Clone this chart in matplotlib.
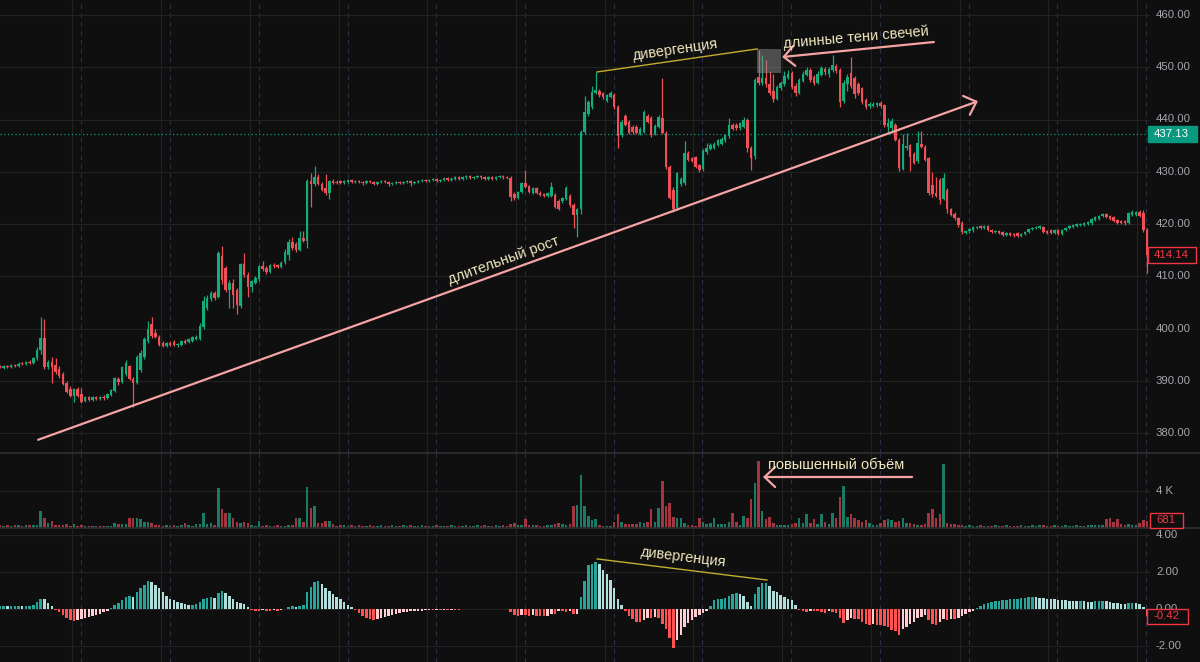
import matplotlib
matplotlib.use("Agg")
import matplotlib.pyplot as plt
from matplotlib.patches import Rectangle
from matplotlib.lines import Line2D

# ---------------- data ----------------
opens = [
    392.8, 392.5, 392.9, 392.6, 393.0, 392.8, 393.3, 393.2, 393.6, 393.4,
    394.3, 395.8, 398.2, 392.6, 393.6, 393.0, 392.2, 391.2, 389.5, 388.5,
    387.0, 388.4, 387.5, 386.2, 386.9, 386.4, 386.8, 386.5, 386.9, 386.7,
    387.3, 388.0, 390.4, 389.8, 391.2, 392.8, 390.4, 389.6, 392.0, 394.5,
    397.6, 400.8, 399.2, 398.4, 397.2, 396.7, 397.2, 397.5, 396.9, 396.9,
    397.6, 397.4, 397.7, 398.0, 398.0, 400.3, 404.0, 405.6, 406.8, 406.0,
    413.8, 411.5, 407.4, 408.7, 407.4, 404.3, 412.3, 410.3, 407.9, 408.8,
    409.4, 412.0, 411.6, 410.8, 412.2, 412.1, 411.8, 412.7, 414.0, 416.6,
    416.2, 415.1, 417.4, 416.8, 428.3, 427.6, 429.0, 427.7, 426.8, 425.9,
    428.2, 428.1, 428.2, 427.8, 428.1, 428.4, 428.0, 428.3, 428.0, 427.9,
    428.2, 428.0, 427.7, 428.0, 428.2, 428.0, 427.6, 427.9, 428.1, 427.8,
    428.1, 428.3, 427.9, 428.1, 428.3, 428.5, 428.2, 428.4, 428.6, 428.3,
    428.5, 428.8, 428.5, 428.7, 428.9, 428.6, 428.9, 429.1, 428.8, 429.0,
    429.2, 428.9, 428.6, 428.9, 428.6, 429.0, 429.2, 428.9, 428.8, 425.8,
    425.0, 426.1, 427.8, 427.2, 426.0, 426.8, 426.0, 425.7, 425.4, 425.4,
    425.5, 424.4, 424.4, 424.8, 425.4, 423.6, 421.7, 422.8, 437.6, 441.0,
    442.3, 445.1, 445.4, 445.0, 443.6, 444.4, 444.7, 442.4, 437.0, 440.6,
    439.6, 438.5, 438.6, 437.3, 437.6, 440.6, 440.2, 437.2, 438.6, 440.3,
    437.4, 430.9, 426.5, 423.0, 427.6, 427.8, 433.6, 432.6, 432.8, 431.2,
    430.5, 433.7, 434.4, 434.6, 435.2, 435.4, 436.0, 436.8, 439.0, 439.0,
    438.3, 438.6, 439.9, 434.6, 433.0, 448.2, 447.0, 448.0, 446.8, 445.4,
    444.0, 446.0, 446.8, 448.0, 448.9, 446.5, 445.0, 447.4, 448.6, 449.5,
    448.2, 447.0, 448.6, 449.6, 448.8, 449.4, 450.3, 449.4, 443.6, 446.8,
    448.9, 448.0, 446.8, 446.0, 443.8, 442.5, 442.6, 442.7, 443.2, 442.7,
    438.5, 438.3, 439.0, 436.1, 430.6, 434.5, 435.1, 433.4, 432.0, 435.4,
    434.8, 432.6, 427.5, 426.0, 428.4, 424.8, 426.5, 422.8, 422.0, 421.1,
    420.2, 418.3, 418.6, 418.8, 419.3, 419.6, 419.2, 419.6, 418.8, 418.4,
    418.6, 418.4, 417.9, 418.2, 418.1, 418.2, 417.7, 418.0, 418.4, 419.0,
    419.2, 419.3, 419.5, 418.7, 418.8, 418.2, 418.9, 418.0, 418.8, 419.3,
    419.5, 419.7, 419.8, 419.9, 420.0, 420.1, 420.7, 421.0, 421.5, 421.9,
    421.5, 421.3, 420.8, 420.6, 420.5, 420.2, 421.7, 421.8, 422.3, 422.1,
    418.9,
]
highs = [
    393.1, 393.0, 393.1, 393.2, 393.3, 393.5, 393.6, 393.8, 393.9, 394.5,
    396.5, 402.2, 401.8, 394.0, 394.5, 394.4, 392.8, 391.6, 389.9, 388.9,
    388.7, 388.8, 388.6, 387.1, 387.1, 387.0, 387.0, 387.1, 387.2, 387.6,
    388.4, 390.8, 390.7, 392.8, 393.9, 393.1, 390.8, 394.9, 395.8, 398.4,
    401.4, 402.2, 399.9, 398.7, 397.6, 397.5, 397.6, 397.8, 397.3, 397.8,
    397.9, 398.2, 398.5, 398.7, 401.0, 406.3, 406.5, 407.2, 407.1, 414.8,
    415.8, 412.0, 409.2, 409.5, 407.8, 412.6, 414.4, 410.8, 409.3, 410.0,
    412.2, 413.0, 412.0, 412.4, 412.6, 412.4, 412.9, 415.2, 417.2, 417.6,
    416.6, 418.6, 418.6, 428.6, 429.8, 431.1, 429.5, 428.0, 429.5, 428.5,
    428.6, 428.4, 428.5, 428.4, 428.7, 428.7, 428.5, 428.5, 428.2, 428.4,
    428.4, 428.2, 428.2, 428.4, 428.4, 428.2, 428.1, 428.3, 428.3, 428.3,
    428.5, 428.5, 428.3, 428.5, 428.7, 428.7, 428.6, 428.8, 428.8, 428.7,
    429.0, 429.0, 428.9, 429.1, 429.1, 429.1, 429.3, 429.3, 429.2, 429.4,
    429.4, 429.1, 429.1, 429.1, 429.2, 429.4, 429.4, 429.1, 429.1, 426.2,
    426.4, 428.0, 430.4, 427.5, 427.1, 427.1, 426.3, 426.0, 426.2, 428.0,
    425.9, 424.8, 425.2, 427.2, 425.8, 424.0, 423.1, 438.0, 444.5, 443.8,
    446.5, 449.1, 445.9, 445.3, 444.9, 445.4, 445.1, 442.8, 440.0, 441.0,
    440.0, 438.9, 438.9, 438.5, 441.8, 441.0, 440.6, 439.1, 440.8, 448.0,
    437.8, 431.2, 427.0, 430.0, 429.0, 435.8, 434.0, 432.9, 433.1, 431.5,
    434.3, 435.5, 435.5, 435.7, 436.3, 436.6, 437.3, 440.2, 439.4, 439.3,
    439.6, 440.5, 440.2, 435.0, 448.0, 453.3, 452.3, 451.4, 449.2, 448.8,
    446.6, 447.4, 449.2, 449.4, 449.3, 447.0, 448.0, 449.2, 450.0, 449.9,
    448.6, 449.2, 450.2, 450.0, 450.0, 452.3, 450.6, 449.8, 447.6, 448.8,
    452.0, 448.4, 447.2, 446.3, 444.2, 443.3, 443.3, 443.4, 443.5, 443.0,
    440.2, 440.2, 439.4, 436.4, 437.3, 437.4, 435.4, 433.8, 437.8, 437.8,
    435.1, 432.9, 430.0, 429.0, 428.8, 429.8, 426.9, 423.1, 422.3, 421.4,
    420.5, 418.9, 419.2, 419.6, 419.7, 419.8, 419.8, 419.8, 419.0, 418.9,
    418.8, 418.6, 418.4, 418.4, 418.3, 418.4, 418.3, 418.7, 419.3, 419.5,
    419.7, 419.9, 419.7, 418.9, 419.0, 419.1, 419.1, 419.1, 419.5, 419.8,
    420.0, 420.2, 420.2, 420.3, 420.6, 421.1, 421.5, 421.8, 422.2, 422.1,
    421.7, 421.5, 421.0, 420.8, 420.7, 422.3, 422.6, 422.5, 422.7, 422.7,
    419.2,
]
lows = [
    392.4, 392.3, 392.5, 392.4, 392.6, 392.7, 393.0, 393.1, 393.2, 393.3,
    394.0, 395.2, 392.2, 392.2, 389.6, 391.3, 390.6, 389.2, 387.6, 386.8,
    385.9, 386.8, 385.8, 385.9, 386.2, 386.2, 386.3, 386.3, 386.4, 386.5,
    387.1, 387.8, 389.2, 389.5, 390.9, 390.2, 385.0, 389.3, 391.6, 394.2,
    397.3, 398.2, 398.2, 396.6, 396.4, 396.5, 396.7, 396.6, 396.5, 396.7,
    397.0, 397.2, 397.5, 397.8, 397.8, 400.0, 403.6, 405.3, 405.5, 405.8,
    408.6, 407.0, 403.9, 404.0, 402.8, 404.0, 409.8, 406.0, 407.0, 408.5,
    409.1, 411.1, 410.5, 410.6, 411.6, 411.5, 411.6, 412.4, 413.2, 415.1,
    414.7, 414.9, 416.5, 415.4, 423.3, 427.3, 427.4, 426.3, 425.6, 424.8,
    427.6, 427.6, 427.7, 427.6, 427.9, 427.8, 427.8, 427.8, 427.5, 427.7,
    427.8, 427.5, 427.5, 427.8, 427.8, 427.3, 427.4, 427.7, 427.6, 427.6,
    427.9, 427.3, 427.7, 427.9, 428.1, 428.0, 428.0, 428.2, 428.1, 428.1,
    428.3, 428.3, 428.3, 428.5, 428.4, 428.4, 428.7, 428.6, 428.6, 428.8,
    428.7, 428.4, 428.4, 428.4, 428.4, 428.8, 428.7, 428.6, 424.4, 424.5,
    424.8, 425.9, 426.8, 425.9, 425.8, 425.8, 425.3, 425.1, 425.2, 425.1,
    423.0, 422.6, 424.1, 424.5, 423.3, 419.2, 417.5, 422.0, 437.2, 440.6,
    442.0, 444.8, 444.4, 444.0, 443.3, 444.1, 442.1, 434.5, 436.7, 438.7,
    437.2, 437.3, 437.2, 437.0, 437.4, 439.3, 436.7, 437.0, 438.3, 437.2,
    430.6, 424.7, 422.3, 422.6, 427.3, 427.5, 432.0, 431.8, 430.8, 429.9,
    430.2, 433.4, 434.1, 434.3, 434.9, 435.1, 435.7, 436.5, 437.9, 438.0,
    438.0, 438.3, 433.8, 430.3, 432.5, 446.6, 446.6, 446.3, 444.6, 443.4,
    443.7, 445.6, 446.5, 447.7, 445.8, 444.5, 444.8, 447.2, 448.3, 447.2,
    446.6, 446.8, 448.4, 448.6, 448.2, 449.1, 448.9, 442.4, 443.2, 445.5,
    446.0, 444.2, 444.6, 443.0, 442.0, 442.2, 442.3, 442.4, 442.2, 438.5,
    437.3, 437.5, 435.8, 430.2, 430.3, 434.2, 430.2, 431.4, 431.7, 434.5,
    432.0, 425.5, 425.2, 425.1, 423.8, 424.5, 422.2, 421.5, 420.8, 419.5,
    418.1, 418.0, 418.3, 418.5, 419.0, 419.0, 419.0, 418.6, 418.2, 418.2,
    418.0, 417.7, 417.7, 417.7, 417.6, 417.5, 417.5, 417.8, 418.2, 418.8,
    419.0, 419.1, 418.2, 418.0, 418.0, 418.0, 417.8, 417.8, 418.6, 419.1,
    419.3, 419.5, 419.6, 419.7, 419.8, 419.9, 420.5, 420.8, 421.3, 421.2,
    420.7, 420.4, 420.0, 420.0, 419.9, 420.0, 421.5, 421.6, 421.3, 418.5,
    410.6,
]
closes = [
    392.5, 392.9, 392.6, 393.0, 392.8, 393.3, 393.2, 393.6, 393.4, 394.3,
    395.9, 398.2, 392.6, 393.6, 392.7, 391.6, 390.9, 389.4, 387.8, 387.0,
    388.4, 387.0, 386.0, 386.9, 386.4, 386.8, 386.5, 386.9, 386.7, 387.4,
    388.2, 390.5, 389.8, 392.6, 393.4, 390.4, 389.6, 394.6, 395.4, 398.0,
    400.0, 398.6, 398.4, 396.9, 396.7, 397.2, 396.9, 396.8, 397.0, 397.6,
    397.2, 398.0, 398.3, 398.4, 400.4, 405.2, 405.8, 406.8, 405.8, 414.5,
    409.3, 407.4, 408.7, 406.5, 404.5, 412.3, 410.2, 407.9, 409.0, 409.7,
    411.9, 411.4, 410.8, 412.1, 411.9, 411.8, 412.6, 414.6, 416.5, 415.4,
    415.0, 417.4, 416.8, 428.3, 427.6, 428.9, 427.7, 426.6, 425.9, 428.2,
    427.8, 427.8, 427.9, 428.2, 428.5, 428.0, 428.3, 428.0, 427.8, 428.2,
    428.0, 427.7, 428.0, 428.2, 428.0, 427.6, 427.9, 428.1, 427.8, 428.1,
    428.3, 427.9, 428.1, 428.3, 428.5, 428.2, 428.4, 428.6, 428.3, 428.5,
    428.8, 428.5, 428.7, 428.9, 428.6, 428.9, 429.1, 428.8, 429.0, 429.2,
    428.9, 428.6, 428.9, 428.6, 429.0, 429.2, 428.9, 428.8, 425.2, 424.9,
    426.1, 427.8, 427.0, 426.2, 426.9, 426.0, 425.6, 425.4, 426.0, 427.1,
    423.3, 422.9, 425.0, 426.9, 423.6, 421.7, 422.8, 437.6, 441.4, 443.4,
    445.3, 445.6, 444.7, 444.3, 444.6, 445.0, 442.4, 436.8, 439.6, 439.0,
    437.5, 437.6, 437.5, 438.2, 441.4, 439.6, 437.0, 438.8, 440.4, 437.5,
    430.9, 425.0, 422.9, 429.7, 428.6, 433.6, 432.3, 432.0, 431.0, 430.3,
    434.0, 434.6, 435.2, 435.4, 436.0, 436.3, 437.0, 439.0, 438.2, 438.3,
    439.3, 440.0, 434.5, 432.6, 447.6, 447.0, 448.0, 446.8, 445.0, 443.9,
    446.2, 447.0, 448.3, 448.8, 446.2, 445.0, 447.6, 448.8, 449.5, 447.6,
    447.0, 448.8, 449.8, 449.0, 449.6, 450.4, 449.2, 443.3, 447.0, 448.2,
    446.5, 444.8, 445.0, 443.4, 442.4, 443.0, 443.0, 443.1, 442.5, 438.9,
    439.3, 439.7, 436.1, 430.8, 435.4, 435.0, 432.9, 431.7, 435.5, 434.8,
    432.3, 426.0, 425.8, 425.4, 424.6, 428.8, 422.8, 421.8, 421.1, 419.8,
    418.4, 418.7, 419.0, 419.4, 419.5, 419.2, 419.6, 418.8, 418.4, 418.7,
    418.2, 417.9, 418.2, 417.9, 417.8, 417.7, 418.1, 418.5, 419.1, 419.3,
    419.5, 419.7, 418.4, 418.2, 418.2, 418.9, 418.0, 418.9, 419.3, 419.6,
    419.8, 420.0, 420.0, 420.1, 420.4, 420.9, 421.3, 421.6, 422.0, 421.4,
    420.9, 420.6, 420.2, 420.2, 420.1, 422.1, 422.3, 422.3, 421.5, 418.9,
    414.14,
]
volume_k = [
    0.25, 0.2, 0.3, 0.2, 0.25, 0.3, 0.2, 0.25, 0.3, 0.25,
    0.3, 1.8, 1.1, 0.5, 0.7, 0.3, 0.3, 0.3, 0.4, 0.2,
    0.4, 0.2, 0.3, 0.2, 0.2, 0.2, 0.2, 0.2, 0.2, 0.2,
    0.2, 0.5, 0.4, 0.4, 0.4, 1.1, 1.1, 1.0, 0.9, 0.6,
    0.6, 0.5, 0.3, 0.25, 0.2, 0.25, 0.2, 0.25, 0.2, 0.25,
    0.5, 0.25, 0.2, 0.4, 0.4, 1.6, 0.4, 0.5, 0.3, 4.3,
    2.0, 1.6, 1.6, 1.1, 0.6, 0.5, 0.6, 0.5, 0.3, 0.2,
    0.7, 0.2, 0.25, 0.2, 0.2, 0.25, 0.2, 0.2, 0.25, 0.3,
    1.1, 1.1, 0.6, 4.4, 2.1, 2.4, 0.5, 0.5, 0.7, 0.7,
    0.4, 0.2, 0.3, 0.25, 0.2, 0.25, 0.2, 0.25, 0.2, 0.2,
    0.25, 0.2, 0.2, 0.25, 0.2, 0.2, 0.25, 0.2, 0.2, 0.25,
    0.2, 0.3, 0.2, 0.2, 0.25, 0.2, 0.2, 0.2, 0.25, 0.2,
    0.2, 0.2, 0.25, 0.2, 0.2, 0.2, 0.25, 0.2, 0.2, 0.3,
    0.2, 0.25, 0.2, 0.2, 0.3, 0.2, 0.25, 0.2, 0.4, 0.5,
    0.3, 0.3, 0.9, 0.3, 0.3, 0.3, 0.2, 0.2, 0.3, 0.3,
    0.4, 0.5, 0.4, 0.3, 0.35, 2.4, 2.5, 5.7, 2.4, 1.3,
    0.8, 0.9, 0.3, 0.2, 0.2, 0.2, 0.6, 1.5, 0.6, 0.4,
    0.4, 0.4, 0.4, 0.6, 0.5, 0.6, 2.0, 0.6, 2.1, 5.0,
    2.4, 2.7, 1.2, 1.0, 1.0, 0.5, 0.3, 0.3, 0.2, 1.1,
    0.6, 0.4, 0.5, 1.0, 0.4, 0.4, 0.4, 0.6, 1.6, 0.6,
    0.3, 1.3, 1.0, 3.1, 4.8, 7.2, 1.8, 0.9, 1.2, 0.5,
    0.3, 0.3, 0.3, 0.3, 0.4, 0.5, 1.0, 0.5, 1.5, 0.5,
    0.9, 0.4, 1.5, 0.6, 0.4, 1.6, 1.0, 3.3, 4.5, 1.2,
    1.5, 1.1, 0.8, 0.6, 0.8, 0.5, 0.3, 0.3, 0.5, 0.8,
    0.9, 0.8, 0.6, 0.7, 1.0, 0.5, 0.5, 0.4, 0.3, 0.3,
    0.4, 1.6, 2.0, 1.0, 1.5, 6.9, 0.5, 0.4, 0.4, 0.3,
    0.3, 0.2, 0.25, 0.2, 0.2, 0.25, 0.2, 0.2, 0.2, 0.25,
    0.2, 0.2, 0.25, 0.2, 0.2, 0.2, 0.25, 0.2, 0.2, 0.3,
    0.2, 0.25, 0.3, 0.2, 0.2, 0.25, 0.2, 0.2, 0.25, 0.2,
    0.2, 0.25, 0.2, 0.2, 0.25, 0.3, 0.3, 0.25, 0.3, 0.9,
    1.1, 0.6, 0.9, 0.4, 0.3, 0.4, 0.3, 0.3, 0.5, 0.8,
    0.68,
]
macd_hist = [
    0.15, 0.15, 0.12, 0.12, 0.15, 0.15, 0.12, 0.12, 0.15, 0.2,
    0.35, 0.55, 0.5, 0.3, 0.15, -0.05, -0.2, -0.35, -0.5, -0.6,
    -0.65, -0.6, -0.55, -0.5, -0.45, -0.4, -0.35, -0.3, -0.2, -0.1,
    0.05, 0.2, 0.3, 0.45, 0.65, 0.7, 0.65, 0.9, 1.1, 1.3,
    1.5, 1.45, 1.3, 1.1, 0.9, 0.7, 0.55, 0.45, 0.35, 0.3,
    0.25, 0.2, 0.2, 0.25, 0.35, 0.5, 0.6, 0.65, 0.6, 0.85,
    0.95, 0.85, 0.7, 0.5, 0.35, 0.3, 0.25, 0.1, -0.05, -0.1,
    -0.1, -0.08, -0.1, -0.1, -0.08, -0.1, -0.05, 0.0, 0.1, 0.15,
    0.1, 0.15, 0.2, 0.9, 1.2, 1.45, 1.5, 1.35, 1.1, 0.95,
    0.8, 0.65, 0.5, 0.35, 0.2, 0.1, -0.05, -0.25, -0.4, -0.5,
    -0.55, -0.6, -0.55, -0.5, -0.45, -0.4, -0.35, -0.3, -0.25, -0.2,
    -0.18, -0.15, -0.13, -0.12, -0.1, -0.09, -0.08, -0.08, -0.07, -0.07,
    -0.06, -0.06, -0.05, -0.05, -0.05, -0.04, -0.04, -0.04, -0.03, -0.03,
    -0.03, -0.04, -0.03, -0.03, -0.04, -0.03, -0.03, -0.04, -0.2, -0.35,
    -0.4, -0.35, -0.35, -0.38, -0.35, -0.38, -0.4, -0.42, -0.38, -0.3,
    -0.3, -0.15, -0.15, -0.2, -0.15, -0.3, -0.28, 0.65, 1.5, 2.35,
    2.4, 2.5, 2.4, 2.1, 1.85, 1.55, 1.1, 0.5, 0.2, -0.1,
    -0.4, -0.55, -0.7, -0.72, -0.6, -0.5, -0.5, -0.45, -0.5, -0.8,
    -1.1, -1.6, -2.1, -1.7, -1.4, -1.0, -0.75, -0.6, -0.45, -0.35,
    -0.25, -0.15, 0.15, 0.45, 0.5, 0.55, 0.6, 0.7, 0.8, 0.85,
    0.8, 0.7, 0.35, 0.15, 0.8, 1.15, 1.4, 1.4, 1.25, 0.95,
    0.9, 0.75, 0.65, 0.55, 0.45, 0.2, -0.05, -0.15, -0.2, -0.1,
    -0.1, -0.15, -0.2, -0.25, -0.15, -0.2, -0.25, -0.5, -0.75, -0.6,
    -0.5, -0.55, -0.55, -0.7, -0.85, -0.9, -0.85, -0.9, -0.9, -0.95,
    -1.0, -1.15, -1.2, -1.4, -1.1, -1.0, -0.85, -0.7, -0.5, -0.45,
    -0.35, -0.6, -0.85, -0.9, -0.7, -0.55, -0.6, -0.55, -0.55, -0.5,
    -0.4, -0.3, -0.2, -0.1, 0.05, 0.15, 0.25, 0.3, 0.35, 0.4,
    0.42, 0.45, 0.47, 0.5, 0.52, 0.55, 0.58, 0.6, 0.62, 0.65,
    0.63, 0.6, 0.58, 0.55, 0.52, 0.5, 0.48, 0.46, 0.45, 0.43,
    0.42, 0.4, 0.42, 0.4, 0.38, 0.37, 0.4, 0.42, 0.44, 0.4,
    0.36, 0.33, 0.3, 0.28, 0.25, 0.3, 0.32, 0.3, 0.25, 0.1,
    -0.42,
]

price_ticks = [380, 390, 400, 410, 420, 430, 440, 450, 460]
volume_ticks = [4]
volume_tick_labels = ["4 K"]
macd_ticks = [4, 2, 0, -2]
ref_price = 437.13
last_price = 414.14
last_volume = "681"
last_macd = -0.42

# ---------------- style ----------------
BG = "#0f0f0f"
GRID = "#222222"
SESSION = "#29304a"
UP, DOWN = "#13ad7b", "#ef4f56"
VUP, VDOWN = "#1b7a65", "#a4343f"
H_UP_GROW, H_UP_FALL = "#26a69a", "#b2dfdb"
H_DN_RISE, H_DN_FALL = "#ffcdd2", "#ff5252"
TICK = "#a3a6ad"
ANN = "#efe6bd"
PINK = "#f5a3a3"
YEL = "#c2ad2e"
FONT = ["Liberation Sans", "DejaVu Sans"]
plt.rcParams["font.family"] = FONT

W, H = 1200, 662
PLOT_W = 1150
STEP = 3.7                       # pixels per candle
P_TOP, P_BOT = 0, 453            # price pane (pixels)
V_TOP, V_BOT = 453, 528          # volume pane
M_TOP, M_BOT = 528, 662          # macd pane

fig = plt.figure(figsize=(W / 100, H / 100), dpi=100)
fig.patch.set_facecolor(BG)


def pane(top, bot):
    ax = fig.add_axes([0, 1 - bot / H, PLOT_W / W, (bot - top) / H])
    ax.set_facecolor(BG)
    for s in ax.spines.values():
        s.set_visible(False)
    ax.set_xticks([])
    ax.set_yticks([])
    ax.set_xlim(0, PLOT_W / STEP)
    return ax


ax_p = pane(P_TOP, P_BOT)
ax_v = pane(V_TOP, V_BOT)
ax_m = pane(M_TOP, M_BOT)

# price pane scale: 460 at y=15px, 5.225 px per unit
PPU = 5.225
ax_p.set_ylim(460 - (P_BOT - 15) / PPU, 460 + 15 / PPU)
VPK = 9.25          # px per 1K volume, baseline at 527.7
ax_v.set_ylim(-(V_BOT - 527.7) / VPK, (527.7 - V_TOP) / VPK)
MPU = 18.5          # px per macd unit, zero at 608.7
ax_m.set_ylim(-(M_BOT - 608.7) / MPU, (608.7 - M_TOP) / MPU)

# vertical grid + session breaks (pixel positions in the reference)
grid_px = [72, 161, 250, 339, 427, 516, 605, 693, 782, 871, 960, 1048, 1137]
for ax in (ax_p, ax_v, ax_m):
    for g in grid_px:
        ax.axvline(g / STEP, color=GRID, lw=0.8, zorder=0)
        ax.axvline((g + 9) / STEP, color=SESSION, lw=0.8, ls=(0, (4, 4)), zorder=0)
for t in price_ticks:
    ax_p.axhline(t, color=GRID, lw=0.8, zorder=0)
for t in volume_ticks:
    ax_v.axhline(t, color=GRID, lw=0.8, zorder=0)
for t in macd_ticks:
    ax_m.axhline(t, color=GRID, lw=0.8, zorder=0)

# candles
n = len(closes)
xs = list(range(n))
cols = [UP if closes[i] >= opens[i] else DOWN for i in xs]
ax_p.vlines(xs, lows, highs, colors=cols, lw=0.9, zorder=2)
bottoms = [min(opens[i], closes[i]) for i in xs]
heights = [max(abs(closes[i] - opens[i]), 0.18) for i in xs]
ax_p.bar(xs, heights, bottom=bottoms, width=0.7, color=cols, zorder=3, linewidth=0)

# reference price line
ax_p.axhline(ref_price, color="#089981", lw=0.9, ls=(0, (1, 2)), zorder=1)

# volume
vcols = [VUP if closes[i] >= opens[i] else VDOWN for i in xs]
ax_v.bar(xs, volume_k, width=0.7, color=vcols, linewidth=0, zorder=2)

# macd histogram
hcols = []
for i, v in enumerate(macd_hist):
    prev = macd_hist[i - 1] if i > 0 else v
    if v >= 0:
        hcols.append(H_UP_GROW if v >= prev else H_UP_FALL)
    else:
        hcols.append(H_DN_RISE if v > prev else H_DN_FALL)
ax_m.bar(xs, macd_hist, width=0.68, color=hcols, linewidth=0, zorder=2)

# ---------------- annotations ----------------
ARW = dict(arrowstyle="->,head_length=0.38,head_width=0.36", color=PINK, lw=1.6,
           shrinkA=0, shrinkB=0, mutation_scale=20)

# long growth trend line
ax_p.annotate("", xy=(264.3, 443.5), xytext=(10.3, 378.7), arrowprops=ARW, zorder=6)
ax_p.text(136.2, 413.1, "длительный рост", color=ANN, fontsize=10.5, rotation=19.9,
          ha="center", va="center", rotation_mode="anchor", zorder=7)

# price divergence
ax_p.plot([161.4, 204.6], [449.1, 453.5], color=YEL, lw=1.0, zorder=6)
ax_p.text(182.7, 453.4, "дивергенция", color=ANN, fontsize=10.5, rotation=8.2,
          ha="center", va="center", rotation_mode="anchor", zorder=7)

# highlighted long shadows (semi-transparent box over the candles)
ax_p.add_patch(Rectangle((204.6, 448.9), 6.5, 4.6, facecolor="#8c8c8c", alpha=0.5,
                         edgecolor="none", zorder=5))
ax_p.annotate("", xy=(211.4, 451.96), xytext=(252.4, 454.83), arrowprops=ARW, zorder=6)
ax_p.text(231.4, 455.7, "длинные тени свечей", color=ANN, fontsize=10.5, rotation=5.0,
          ha="center", va="center", rotation_mode="anchor", zorder=7)

# high volume
ax_v.annotate("", xy=(206.2, 5.48), xytext=(246.5, 5.48), arrowprops=ARW, zorder=6)
ax_v.text(226.0, 6.75, "повышенный объём", color=ANN, fontsize=10.5,
          ha="center", va="center", zorder=7)

# macd divergence
ax_m.plot([161.4, 207.3], [2.69, 1.55], color=YEL, lw=1.0, zorder=6)
ax_m.text(184.6, 2.8, "дивергенция", color=ANN, fontsize=10.5, rotation=-7.0,
          ha="center", va="center", rotation_mode="anchor", zorder=7)

# ---------------- right axis labels ----------------
LX = 1156 / W


def fy(py):
    return 1 - py / H


for t in price_ticks:
    py = 15 + (460 - t) * PPU
    fig.text(LX, fy(py), f"{t:.2f}", color=TICK, fontsize=8.2, va="center", ha="left")
for t, lab in zip(volume_ticks, volume_tick_labels):
    fig.text(LX, fy(527.7 - t * VPK), lab, color=TICK, fontsize=8.2, va="center", ha="left")
for t in macd_ticks:
    fig.text(LX, fy(608.7 - t * MPU), f"{t:.2f}", color=TICK, fontsize=8.2,
             va="center", ha="left")


def label_box(x0, x1, yc, h, text, fc, ec, tc):
    fig.add_artist(Rectangle((x0 / W, fy(yc + h / 2)), (x1 - x0) / W, h / H,
                             transform=fig.transFigure, facecolor=fc, edgecolor=ec,
                             lw=1.0, zorder=10))
    fig.text((x0 + 6) / W, fy(yc), text, color=tc, fontsize=8.2, va="center",
             ha="left", zorder=11)


label_box(1148, 1197, 15 + (460 - ref_price) * PPU, 16, f"{ref_price:.2f}",
          "#089981", "#089981", "white")
label_box(1148, 1196, 15 + (460 - last_price) * PPU, 16, f"{last_price:.2f}",
          BG, "#f23645", "#f23645")
label_box(1150, 1183, 520, 15, last_volume, BG, "#f23645", "#f23645")
label_box(1147, 1188, 608.7 - last_macd * MPU, 15, f"{last_macd:.2f}",
          BG, "#f23645", "#f23645")

# pane separators
for py in (V_TOP, M_TOP):
    fig.add_artist(Line2D([0, 1], [fy(py), fy(py)], color="#2c2c2c", lw=1.3,
                          transform=fig.transFigure))

fig.savefig("out.png", dpi=100, facecolor=BG)
